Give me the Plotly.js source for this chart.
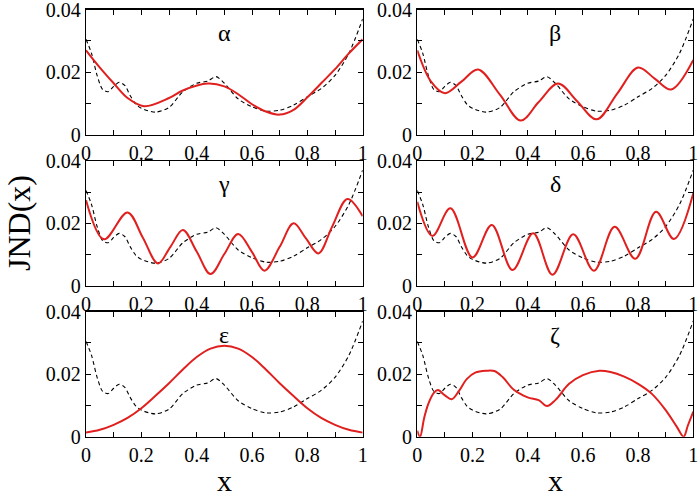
<!DOCTYPE html>
<html>
<head>
<meta charset="utf-8">
<script src="https://cdn.plot.ly/plotly-3.0.1.min.js"></script>
<style>html,body{margin:0;padding:0;background:#fff;}#plot{width:700px;height:496px;}</style>
</head>
<body>
<div id="plot"></div>
<script>
// Reference (dashed) curve, same in every panel
var refX = [0, 0.02, 0.04, 0.06, 0.08, 0.10, 0.12, 0.14, 0.16, 0.18, 0.20, 0.25, 0.30, 0.35, 0.40, 0.44, 0.47, 0.50, 0.55, 0.60, 0.65, 0.70, 0.75, 0.80, 0.85, 0.90, 0.95, 1.0];
var refY = [0.0305, 0.026, 0.019, 0.0145, 0.0138, 0.0155, 0.0168, 0.0158, 0.0125, 0.0098, 0.0085, 0.0073, 0.0088, 0.0138, 0.0165, 0.0172, 0.0186, 0.0165, 0.0115, 0.009, 0.0076, 0.0079, 0.0095, 0.0122, 0.0148, 0.019, 0.026, 0.037];

// Red curves
var alphaX = [0, 0.05, 0.1, 0.15, 0.21, 0.3, 0.35, 0.44, 0.5, 0.55, 0.6, 0.65, 0.7, 0.75, 0.8, 0.85, 0.9, 0.95, 1.0];
var alphaY = [0.027, 0.0215, 0.0165, 0.0118, 0.0092, 0.0118, 0.0142, 0.0164, 0.0155, 0.013, 0.0098, 0.0075, 0.0065, 0.008, 0.012, 0.0165, 0.021, 0.026, 0.0305];

var betaX = [0, 0.05, 0.1, 0.16, 0.22, 0.3, 0.375, 0.44, 0.51, 0.58, 0.65, 0.725, 0.8, 0.86, 0.92, 1.0];
var betaY = [0.027, 0.017, 0.0133, 0.017, 0.0209, 0.0128, 0.0046, 0.0105, 0.0164, 0.0107, 0.005, 0.0133, 0.0215, 0.018, 0.0145, 0.0239];

var gammaX = [0, 0.065, 0.15, 0.205, 0.26, 0.305, 0.35, 0.4, 0.45, 0.5, 0.55, 0.6, 0.645, 0.7, 0.75, 0.795, 0.84, 0.89, 0.945, 1.0];
var gammaY = [0.0274, 0.0149, 0.0235, 0.0155, 0.0072, 0.0125, 0.0179, 0.011, 0.0038, 0.0102, 0.0166, 0.0108, 0.0049, 0.0125, 0.020, 0.0152, 0.0104, 0.019, 0.0278, 0.0223];

var deltaX = [0, 0.055, 0.12, 0.2, 0.27, 0.345, 0.42, 0.49, 0.565, 0.64, 0.715, 0.79, 0.865, 0.93, 1.0];
var deltaY = [0.0269, 0.016, 0.0248, 0.0091, 0.0195, 0.0051, 0.0168, 0.0036, 0.0165, 0.0049, 0.0189, 0.0087, 0.0237, 0.015, 0.0296];

var epsX = [0, 0.05, 0.1, 0.15, 0.2, 0.25, 0.3, 0.35, 0.4, 0.45, 0.5, 0.55, 0.6, 0.65, 0.7, 0.75, 0.8, 0.85, 0.9, 0.95, 1.0];
var epsY = [0.0013, 0.0022, 0.0038, 0.006, 0.0091, 0.013, 0.0171, 0.0215, 0.0255, 0.0282, 0.0291, 0.0282, 0.0255, 0.0215, 0.0171, 0.013, 0.0091, 0.006, 0.0038, 0.0022, 0.0013];

var zetaX = [0, 0.01, 0.025, 0.04, 0.06, 0.075, 0.1, 0.125, 0.15, 0.18, 0.21, 0.25, 0.28, 0.31, 0.35, 0.4, 0.44, 0.47, 0.5, 0.55, 0.6, 0.66, 0.7, 0.75, 0.8, 0.85, 0.9, 0.94, 0.965, 0.98, 1.0];
var zetaY = [0.0019, 0.0, 0.006, 0.0105, 0.014, 0.0149, 0.0132, 0.012, 0.0145, 0.0185, 0.0205, 0.0211, 0.021, 0.019, 0.015, 0.0126, 0.0117, 0.0098, 0.0117, 0.0169, 0.0197, 0.0211, 0.0207, 0.0192, 0.0169, 0.0137, 0.0085, 0.0032, 0.0, 0.0035, 0.008];

var panelLabels = ["α", "β", "γ", "δ", "ε", "ζ"];
var xTickVals = [0, 0.2, 0.4, 0.6, 0.8, 1];
var xTickText = ["0", "0.2", "0.4", "0.6", "0.8", "1"];
var yTickVals = [0, 0.02, 0.04];
var yTickText = ["0", "0.02", "0.04"];

var reds = [[alphaX, alphaY], [betaX, betaY], [gammaX, gammaY], [deltaX, deltaY], [epsX, epsY], [zetaX, zetaY]];

var FONT = "Liberation Serif";
var colDom = [[0.1229, 0.5181], [0.5961, 0.9904]];
var rowDom = [[0.7278, 0.9808], [0.4234, 0.6760], [0.1196, 0.3716]];

var data = [];
var layout = {
  width: 700, height: 496,
  margin: {l: 0, r: 0, t: 0, b: 0},
  paper_bgcolor: "#fff", plot_bgcolor: "#fff",
  showlegend: false,
  font: {family: FONT, size: 20, color: "#000"},
  annotations: []
};

for (var i = 0; i < 6; i++) {
  var n = i + 1;
  var xa = "x" + (n === 1 ? "" : n);
  var ya = "y" + (n === 1 ? "" : n);
  data.push({x: refX, y: refY, xaxis: xa, yaxis: ya, type: "scatter", mode: "lines",
    line: {color: "#000", width: 1.1, dash: "4px,3px", shape: "spline", smoothing: 0.8}, hoverinfo: "skip"});
  data.push({x: reds[i][0], y: reds[i][1], xaxis: xa, yaxis: ya, type: "scatter", mode: "lines",
    line: {color: "#e0201e", width: 2, shape: "spline", smoothing: 1.0}, hoverinfo: "skip"});
  var col = i % 2, row = Math.floor(i / 2);
  var axBase = {showgrid: false, zeroline: false, showline: true, linecolor: "#000", linewidth: 1.2,
    mirror: "ticks", ticks: "inside", ticklen: 5, tickwidth: 1, tickcolor: "#000",
    ticklabeloverflow: "allow",
    tickfont: {family: FONT, size: 20, color: "#000"}, fixedrange: true};
  layout["xaxis" + (n === 1 ? "" : n)] = Object.assign({}, axBase, {
    domain: colDom[col], anchor: ya, range: [0, 1], tickmode: "array",
    tickvals: xTickVals, ticktext: xTickText,
    minor: {dtick: 0.1, tick0: 0, ticks: "inside", ticklen: 5, tickwidth: 1, tickcolor: "#000"}
  });
  layout["yaxis" + (n === 1 ? "" : n)] = Object.assign({}, axBase, {
    domain: rowDom[row], anchor: xa, range: [0, 0.04], tickmode: "array",
    tickvals: yTickVals, ticktext: yTickText,
    minor: {dtick: 0.01, tick0: 0, ticks: "inside", ticklen: 5, tickwidth: 1, tickcolor: "#000"}
  });
  layout.annotations.push({xref: xa, yref: ya, x: 0.5, y: 0.0325, text: panelLabels[i],
    showarrow: false, font: {family: FONT, size: 24, color: "#000"}, xanchor: "center", yanchor: "middle"});
}

layout.annotations.push({xref: "paper", yref: "paper", x: (colDom[0][0] + colDom[0][1]) / 2, y: 1 - 480 / 496,
  text: "x", showarrow: false, font: {family: FONT, size: 30, color: "#000"}, xanchor: "center", yanchor: "middle"});
layout.annotations.push({xref: "paper", yref: "paper", x: (colDom[1][0] + colDom[1][1]) / 2, y: 1 - 480 / 496,
  text: "x", showarrow: false, font: {family: FONT, size: 30, color: "#000"}, xanchor: "center", yanchor: "middle"});
layout.annotations.push({xref: "paper", yref: "paper", x: 19 / 700, y: 1 - 223 / 496,
  text: "JND(x)", textangle: -90, showarrow: false, font: {family: FONT, size: 32, color: "#000"}, xanchor: "center", yanchor: "middle"});

Plotly.newPlot("plot", data, layout, {displayModeBar: false, staticPlot: true});
</script>
</body>
</html>
